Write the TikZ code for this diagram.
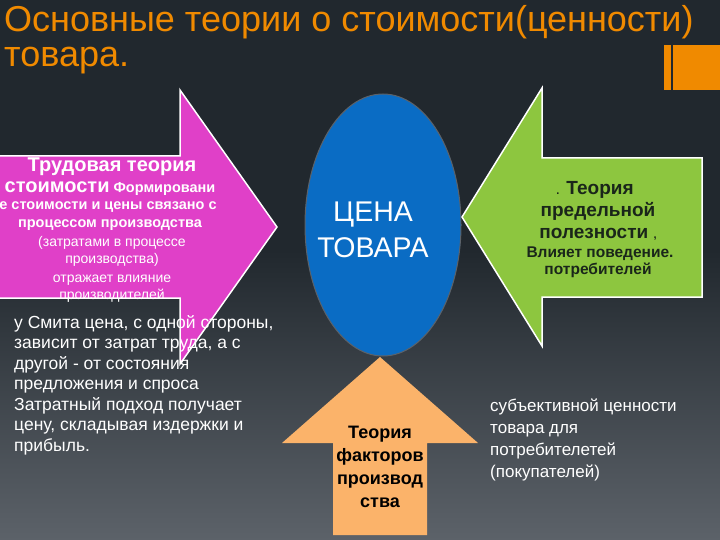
\documentclass[tikz,border=0pt]{standalone}
\usepackage{fontspec}
\setmainfont{Liberation Sans}
\usetikzlibrary{shapes.geometric}
\definecolor{bgtop}{HTML}{21282E}
\definecolor{bgbot}{HTML}{5C6269}
\definecolor{ttl}{HTML}{F08A00}
\definecolor{pinkc}{HTML}{E040C8}
\definecolor{greenc}{HTML}{8DC63F}
\definecolor{bluec}{HTML}{0A6CC4}
\definecolor{orc}{HTML}{FBB36A}
\definecolor{dkg}{HTML}{1A261A}
\begin{document}
\begin{tikzpicture}[x=1pt,y=-1pt,
  shp/.style={line width=1.5pt,draw=white},
  tx/.style={inner sep=0pt,align=center,anchor=base},
  wt/.style={tx,text=white},
  fs/.style={font=\fontsize{#1}{#1}\selectfont}]
\useasboundingbox (0,0) rectangle (720,540);
\fill[bgtop] (0,0) rectangle (720,251);
\shade[top color=bgtop,bottom color=bgbot] (0,250) rectangle (720,540);
% title
\node[tx,anchor=base west,text=ttl,fs=36] (t1) at (4,32) {Основные теории о стоимости(ценности)};
\node[tx,anchor=base west,text=ttl,fs=36] (t2) at (4,67) {товара.};
\fill[ttl] (664,45) rectangle (720,90);
\draw[bgtop,line width=1.5pt] (672,45) -- (672,90);
% pink arrow
\draw[shp,fill=pinkc] (-2,156) -- (180,156) -- (180,90) -- (277,227) -- (180,364) -- (180,298) -- (-2,298) -- cycle;
% ellipse
\node[draw=bgbot,line width=1pt,fill=bluec,ellipse,minimum width=156pt,minimum height=262pt,inner sep=0pt] (el) at (383,225) {};
% green arrow
\draw[shp,fill=greenc] (702,158) -- (542,158) -- (542,88) -- (462,217) -- (542,346) -- (542,297) -- (702,297) -- cycle;
% orange arrow
\fill[orc] (380,357) -- (478,443) -- (427,443) -- (427,535) -- (333,535) -- (333,443) -- (282,443) -- cycle;
% pink texts
\node[wt,fs=20] (p1) at (112,172) {\bfseries Трудовая теория};
\node[wt,fs=20] (p2) at (110,193) {\bfseries стоимости\fontsize{14.5}{14.5}\selectfont\ Формировани};
\node[wt,fs=14.5] (p3) at (108,210) {\bfseries е стоимости и цены связано с};
\node[wt,fs=14.5] (p4) at (110,227) {\bfseries процессом производства};
\node[wt,fs=14] (p5) at (112,247) {(затратами в процессе};
\node[wt,fs=14] (p6) at (112,263) {производства)};
\node[wt,fs=14] (p7) at (112,282) {отражает влияние};
\node[wt,fs=14] (p8) at (112,299) {производителей};
% center
\node[wt,fs=28.5] (c1) at (373,222) {ЦЕНА};
\node[wt,fs=28.5] (c2) at (373,258) {ТОВАРА};
% green texts
\node[tx,text=dkg,fs=19] (g1) at (595,195) {\bfseries {\fontsize{11}{11}\selectfont .} Теория};
\node[tx,text=dkg,fs=19] (g2) at (598,216) {\bfseries предельной};
\node[tx,text=dkg,fs=19] (g3) at (598,238) {\bfseries полезности {\fontsize{11}{11}\selectfont ,}};
\node[tx,text=dkg,fs=15.5] (g4) at (600,257) {\bfseries Влияет поведение.};
\node[tx,text=dkg,fs=15.5] (g5) at (598,274) {\bfseries потребителей};
% left lower text
\node[wt,align=left,anchor=north west,font=\fontsize{17.5}{20.5}\selectfont] (lt) at (14,315) {%
у Смита цена, с одной стороны,\\
зависит от затрат труда, а с\\
другой - от состояния\\
предложения и спроса\\
Затратный подход получает\\
цену, складывая издержки и\\
прибыль.};
% right lower text
\node[wt,align=left,anchor=north west,font=\fontsize{17}{22}\selectfont] (rt) at (490,399) {%
субъективной ценности\\
товара для\\
потребителетей\\
(покупателей)};
% orange text
\node[tx,fs=18] (o1) at (380,438) {\bfseries Теория};
\node[tx,fs=18] (o2) at (380,461) {\bfseries факторов};
\node[tx,fs=18] (o3) at (380,484) {\bfseries производ};
\node[tx,fs=18] (o4) at (380,507) {\bfseries ства};
\end{tikzpicture}
\end{document}
